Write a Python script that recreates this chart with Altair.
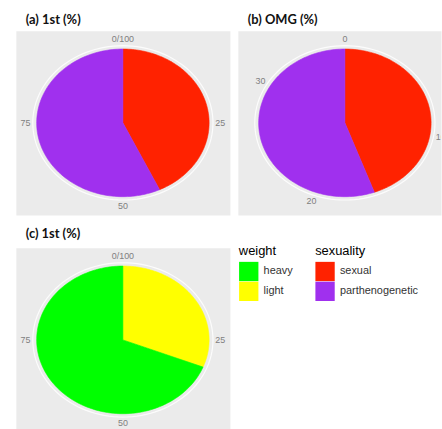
import altair as alt
import pandas as pd

# ---- data ----
sex_cats = ["sexual", "parthenogenetic"]
a_vals = [43, 57]          # (a) 1st (%)
b_vals = [16, 20]          # (b) OMG (%)
weight_cats = ["light", "heavy"]
c_vals = [31, 69]          # (c) 1st (%)

a_ticks = [0, 25, 50, 75]
a_tick_labels = ["0/100", "25", "50", "75"]
b_ticks = [0, 10, 20, 30]
b_tick_labels = ["0", "10", "20", "30"]

sex_colors = ["#FF2200", "#A030EE"]
weight_domain = ["heavy", "light"]
weight_colors = ["#00FF00", "#FFFF00"]

FONT = "Liberation Sans"
N = 120
RX = 108 / 87
RY = 93 / 74.5
PANEL_W = 216
PANEL_H = 186
VIEW_BG = alt.ViewBackground(fill="#EBEBEB", stroke="transparent")


def xy_enc(xdom):
    return dict(
        x=alt.X("px:Q", scale=alt.Scale(domain=xdom, nice=False, zero=False), axis=None),
        y=alt.Y("py:Q", scale=alt.Scale(domain=[-RY, RY], nice=False, zero=False), axis=None),
    )


def ring_layer(xdom):
    return (
        alt.Chart(pd.DataFrame({"r": [1.045]}))
        .transform_calculate(k=f"sequence(0,{N + 1})")
        .transform_flatten(["k"])
        .transform_calculate(
            px=f"datum.r*sin(2*PI*datum.k/{N})",
            py=f"datum.r*cos(2*PI*datum.k/{N})",
        )
        .mark_line(color="white", strokeWidth=1.2, opacity=0.85, clip=True)
        .encode(order="k:Q", **xy_enc(xdom))
    )


def pie_layer(cats, vals, field, domain, colors, xdom):
    df = pd.DataFrame({field: cats, "val": vals, "ord": list(range(len(cats)))})
    sc = alt.Scale(domain=domain, range=colors)
    return (
        alt.Chart(df)
        .transform_window(cum="sum(val)", sort=[alt.SortField("ord")], frame=[None, 0])
        .transform_joinaggregate(total="sum(val)")
        .transform_calculate(
            a0="2*PI*(datum.cum-datum.val)/datum.total",
            a1="2*PI*datum.cum/datum.total",
            k=f"sequence(-1,{N + 2})",
        )
        .transform_flatten(["k"])
        .transform_calculate(
            ang=f"datum.a0+(datum.a1-datum.a0)*clamp(datum.k,0,{N})/{N}",
        )
        .transform_calculate(
            px=f"(datum.k<0||datum.k>{N})?0:sin(datum.ang)",
            py=f"(datum.k<0||datum.k>{N})?0:cos(datum.ang)",
        )
        .mark_line(filled=True, strokeWidth=0.6, clip=True)
        .encode(
            order="k:Q",
            detail=f"{field}:N",
            fill=alt.Fill(f"{field}:N", scale=sc, legend=None),
            stroke=alt.Stroke(f"{field}:N", scale=sc, legend=None),
            **xy_enc(xdom),
        )
    )


def label_layer(ticks, labels, total, xdom):
    df = pd.DataFrame({"t": ticks, "label": labels, "total": [total] * len(ticks)})
    return (
        alt.Chart(df)
        .transform_calculate(
            px="1.13*sin(2*PI*datum.t/datum.total)",
            py="1.13*cos(2*PI*datum.t/datum.total)",
        )
        .mark_text(font=FONT, fontSize=9, color="#808080", clip=True)
        .encode(text="label:N", **xy_enc(xdom))
    )


def title(txt):
    return alt.TitleParams(
        txt, anchor="start", font="Lato", fontSize=13, fontWeight="bold",
        color="#111111", dx=10, offset=4,
    )


xa = [-RX, RX]
xb = [-RX, (205 - 108) / 87]

panel_a = alt.layer(
    ring_layer(xa),
    pie_layer(sex_cats, a_vals, "sexuality", sex_cats, sex_colors, xa),
    label_layer(a_ticks, a_tick_labels, sum(a_vals), xa),
).properties(width=PANEL_W, height=PANEL_H, title=title("(a) 1st (%)"), view=VIEW_BG)

panel_b = alt.layer(
    ring_layer(xb),
    pie_layer(sex_cats, b_vals, "sexuality", sex_cats, sex_colors, xb),
    label_layer(b_ticks, b_tick_labels, sum(b_vals), xb),
).properties(width=205, height=PANEL_H, title=title("(b) OMG (%)"), view=VIEW_BG)

legend_common = dict(
    orient="none", symbolType="square", symbolSize=380, symbolStrokeWidth=0,
    labelFontSize=11, titleFontSize=13, titleFontWeight="normal",
    labelFont=FONT, titleFont=FONT, labelColor="#333333", titleColor="#000000",
    labelOffset=5, rowPadding=0, titlePadding=4,
)

weight_legend = (
    alt.Chart(pd.DataFrame({"weight": weight_domain}))
    .transform_filter("false")
    .mark_square(opacity=1)
    .encode(color=alt.Color("weight:N", scale=alt.Scale(domain=weight_domain, range=weight_colors),
                            legend=alt.Legend(legendX=225, legendY=-3, **legend_common)))
)
sex_legend = (
    alt.Chart(pd.DataFrame({"sexuality": sex_cats}))
    .transform_filter("false")
    .mark_square(opacity=1)
    .encode(color=alt.Color("sexuality:N", scale=alt.Scale(domain=sex_cats, range=sex_colors),
                            legend=alt.Legend(legendX=302, legendY=-3, **legend_common)))
)

xc = [-RX, RX]
panel_c = alt.layer(
    ring_layer(xc),
    pie_layer(weight_cats, c_vals, "weight", weight_domain, weight_colors, xc),
    label_layer(a_ticks, a_tick_labels, sum(c_vals), xc),
    weight_legend,
    sex_legend,
).resolve_scale(color="independent", fill="independent", stroke="independent").properties(
    width=PANEL_W, height=PANEL_H, title=title("(c) 1st (%)"), view=VIEW_BG
)

chart = (
    alt.vconcat(alt.hconcat(panel_a, panel_b, spacing=6), panel_c, spacing=11)
    .properties(padding={"left": 15, "top": 11, "right": 0, "bottom": 0}, background="white")
    .configure_view(fill="#EBEBEB", stroke="transparent")
)

chart.save("out.html", embed_options={"renderer": "svg", "actions": False})
